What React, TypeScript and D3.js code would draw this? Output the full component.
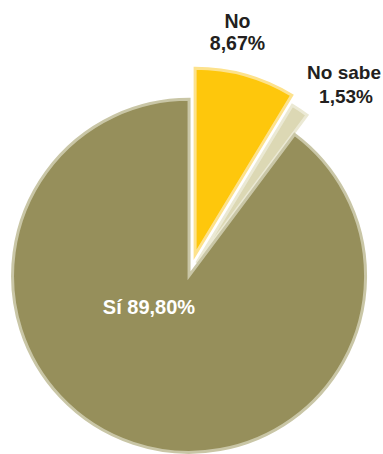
import React from "react";
import * as d3 from "d3";

const categories = ["No", "No sabe", "Sí"];
const values = [8.67, 1.53, 89.8];
const valueLabels = ["8,67%", "1,53%", "89,80%"];

const fills = ["#fec70c", "#dcd8b4", "#968f5b"];
const strokes = ["#fde28c", "#ebe9d4", "#c9c6a6"];
const explode = [19, 12, 3];
const radii = [188, 186, 178];

export default function App() {
  const W = 383;
  const H = 454;
  const cx = 190;
  const cy = 273;
  const pie = d3.pie<number>().sort(null).value((d) => d);
  const arcs = pie(values);
  const font = "'Liberation Sans', Arial, sans-serif";
  return (
    <svg
      width={W}
      height={H}
      style={{ position: "absolute", left: 0, top: 0 }}
      viewBox={`0 0 ${W} ${H}`}
    >
      <rect width={W} height={H} fill="#ffffff" />
      {arcs.map((a, i) => {
        const mid = (a.startAngle + a.endAngle) / 2;
        const dx = explode[i] * Math.sin(mid);
        const dy = -explode[i] * Math.cos(mid);
        const arcGen = d3.arc<d3.PieArcDatum<number>>().innerRadius(0).outerRadius(radii[i] - 1.5);
        return (
          <path
            key={categories[i]}
            d={arcGen(a) || ""}
            transform={`translate(${cx + dx},${cy + dy})`}
            fill={fills[i]}
            stroke={strokes[i]}
            strokeWidth={3}
            strokeLinejoin="miter"
          />
        );
      })}
      <g fontFamily={font} fontWeight="bold" fill="#231f20" textAnchor="middle">
        <text x={237.5} y={28} fontSize={19.5}>{categories[0]}</text>
        <text x={237.5} y={50} fontSize={19.5}>{valueLabels[0]}</text>
        <text x={344} y={79} fontSize={19}>{categories[1]}</text>
        <text x={346} y={103} fontSize={19}>{valueLabels[1]}</text>
      </g>
      <text
        x={149}
        y={314}
        fontFamily={font}
        fontWeight="bold"
        fontSize={20}
        fill="#ffffff"
        textAnchor="middle"
      >
        {`${categories[2]} ${valueLabels[2]}`}
      </text>
    </svg>
  );
}
